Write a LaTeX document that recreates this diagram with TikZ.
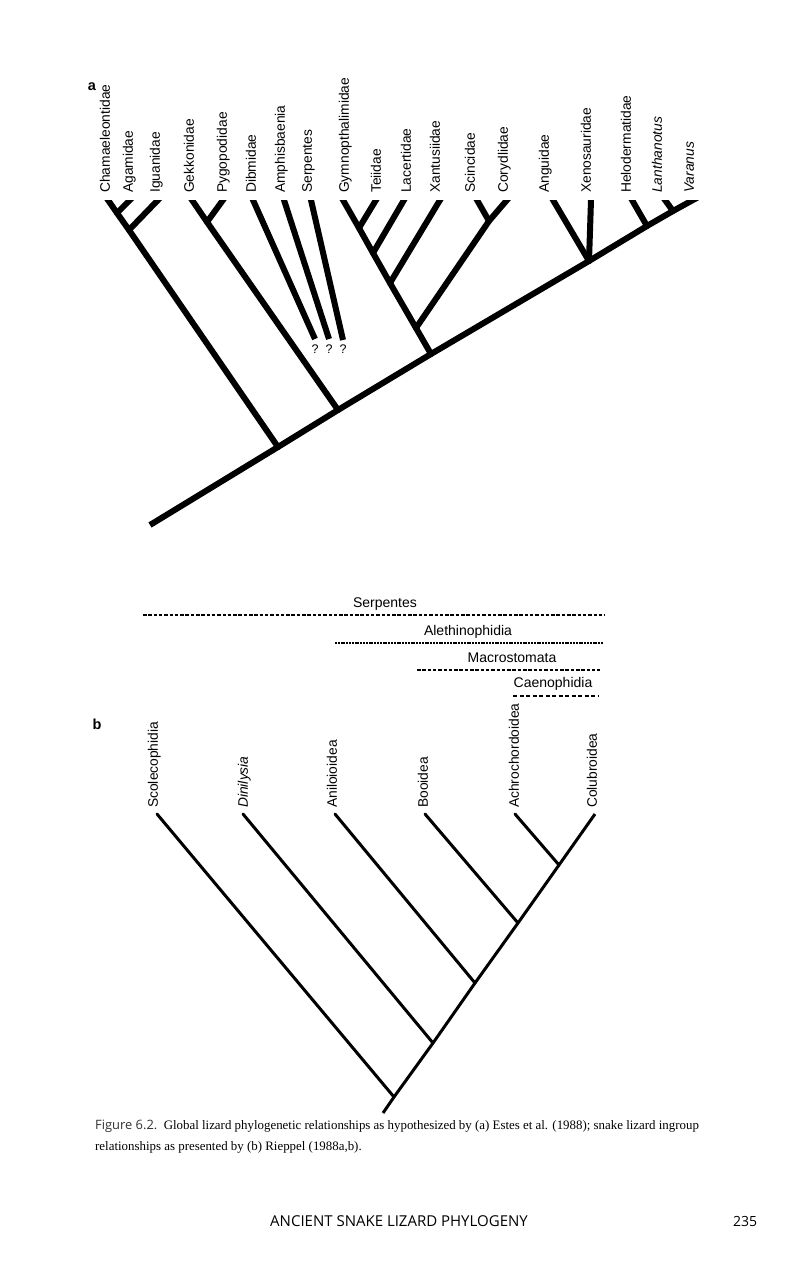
\documentclass[tikz,border=0pt]{standalone}
\usepackage{fontspec}
\usetikzlibrary{positioning}
\setmainfont{Liberation Sans}
\newfontfamily\capfont{Liberation Serif}
\newfontfamily\pagefont{Open Sans}
\tikzset{
  taxon/.style={rotate=90, anchor=west, inner sep=0pt, text height=0.75em,
    text depth=0.2em, font=\fontsize{13.8}{15}\selectfont},
  cladename/.style={inner sep=0pt, font=\fontsize{14}{15}\selectfont},
  query/.style={inner sep=0pt, font=\fontsize{12.5}{14}\selectfont},
  heavy/.style={line width=6pt, line cap=round, line join=round},
  light/.style={line width=3pt, line cap=round, line join=round},
  tipcut/.style={shorten <=-7pt},
  cladebar/.style={line width=1.5pt, dash pattern=on 3.5pt off 1.8pt},
}
\begin{document}
\begin{tikzpicture}[x=1pt, y=-1pt]
  \useasboundingbox (0,0) rectangle (793,1280);
  \fill[white] (0,0) rectangle (793,1280);
  % Panel a: lizard tree
  \node[font=\fontsize{14.5}{16}\selectfont\bfseries] (pa) at (92,87) {a};
  \begin{scope}
    \clip (0,200) rectangle (793,1280);
    % backbone
    \coordinate (aroot) at (150,525);
    \coordinate (ncham) at (278,447);
    \coordinate (ngekk) at (338,410);
    \coordinate (ngymn) at (431,354);
    \coordinate (nangu) at (589,261);
    \coordinate (nhelo) at (647,226);
    \coordinate (nlant) at (673,211);
    \coordinate (tvara) at (693,200);
    \draw[heavy, line cap=butt, shorten >=-7pt] (aroot) -- (ncham) -- (ngekk) -- (ngymn)
      -- (nangu) -- (nhelo) -- (nlant) -- (tvara);
    % Chamaeleontidae, Agamidae, Iguanidae
    \coordinate (tcham) at (108,200);
    \coordinate (tagam) at (130,200);
    \coordinate (tigua) at (158,200);
    \coordinate (ncg) at (117,213);
    \coordinate (ncgi) at (129,230);
    \draw[heavy, tipcut] (tcham) -- (ncg) -- (ncgi) -- (ncham);
    \draw[heavy, tipcut] (tagam) -- (ncg);
    \draw[heavy, tipcut] (tigua) -- (ncgi);
    % Gekkonidae, Pygopodidae
    \coordinate (tgekk) at (192,200);
    \coordinate (tpygo) at (223,200);
    \coordinate (ngp) at (207,222);
    \draw[heavy, tipcut] (tgekk) -- (ngp) -- (ngekk);
    \draw[heavy, tipcut] (tpygo) -- (ngp);
    % Dibmidae, Amphisbaenia, Serpentes
    \coordinate (tdibm) at (253,200);
    \coordinate (tamph) at (284,200);
    \coordinate (tserp) at (311,200);
    \coordinate (edibm) at (315,339);
    \coordinate (eamph) at (329,339);
    \coordinate (eserp) at (343,340);
    \draw[heavy, line cap=butt, tipcut] (tdibm) -- (edibm);
    \draw[heavy, line cap=butt, tipcut] (tamph) -- (eamph);
    \draw[heavy, line cap=butt, tipcut] (tserp) -- (eserp);
    % Gymnopthalimidae to Corydlidae
    \coordinate (tgymn) at (343,200);
    \coordinate (tteii) at (376,200);
    \coordinate (tlace) at (404,200);
    \coordinate (txant) at (440,200);
    \coordinate (tscin) at (477,200);
    \coordinate (tcory) at (507,200);
    \coordinate (ngt) at (359,228);
    \coordinate (ngtl) at (373,253);
    \coordinate (ngtlx) at (390,283);
    \coordinate (nsc) at (489,221);
    \coordinate (nscb) at (416,328);
    \draw[heavy, tipcut] (tgymn) -- (ngt) -- (ngtl) -- (ngtlx) -- (nscb) -- (ngymn);
    \draw[heavy, tipcut] (tteii) -- (ngt);
    \draw[heavy, tipcut] (tlace) -- (ngtl);
    \draw[heavy, tipcut] (txant) -- (ngtlx);
    \draw[heavy, tipcut] (tcory) -- (nsc) -- (nscb);
    \draw[heavy, tipcut] (tscin) -- (nsc);
    % Anguidae, Xenosauridae
    \coordinate (tangu) at (553,200);
    \coordinate (txeno) at (591,200);
    \draw[heavy, tipcut] (tangu) -- (nangu);
    \draw[heavy, tipcut] (txeno) -- (nangu);
    % Helodermatidae, Lanthanotus
    \coordinate (thelo) at (632,200);
    \coordinate (tlant) at (665,200);
    \draw[heavy, tipcut] (thelo) -- (nhelo);
    \draw[heavy, tipcut] (tlant) -- (nlant);
  \end{scope}
  % question marks
  \node[query, below=6pt of edibm] (qdibm) {?};
  \node[query, below=6pt of eamph] (qamph) {?};
  \node[query, below=5pt of eserp] (qserp) {?};
  % taxon names, panel a
  \node[taxon] (lcham) at (107,193) {Chamaeleontidae};
  \node[taxon] (lagam) at (130,193) {Agamidae};
  \node[taxon] (ligua) at (157,193) {Iguanidae};
  \node[taxon] (lgekk) at (191,193) {Gekkonidae};
  \node[taxon] (lpygo) at (224,193) {Pygopodidae};
  \node[taxon] (ldibm) at (253,193) {Dibmidae};
  \node[taxon] (lamph) at (282,193) {Amphisbaenia};
  \node[taxon] (lserp) at (309,193) {Serpentes};
  \node[taxon] (lgymn) at (346,193) {Gymnopthalimidae};
  \node[taxon] (lteii) at (378,193) {Teiidae};
  \node[taxon] (llace) at (408,193) {Lacertidae};
  \node[taxon] (lxant) at (437,193) {Xantusiidae};
  \node[taxon] (lscin) at (472,193) {Scincidae};
  \node[taxon] (lcory) at (505,193) {Corydlidae};
  \node[taxon] (langu) at (546,193) {Anguidae};
  \node[taxon] (lxeno) at (588,193) {Xenosauridae};
  \node[taxon] (lhelo) at (628,193) {Helodermatidae};
  \node[taxon] (llant) at (659,193) {\itshape Lanthanotus};
  \node[taxon] (lvara) at (691,193) {\itshape Varanus};
  % Panel b: clade bars
  \coordinate (serpa) at (143,615);
  \coordinate (serpb) at (605,615);
  \coordinate (aletha) at (335,643);
  \coordinate (alethb) at (603,643);
  \coordinate (macra) at (417,670);
  \coordinate (macrb) at (600,670);
  \coordinate (caena) at (513,696);
  \coordinate (caenb) at (598,696);
  \draw[cladebar] (serpa) -- (serpb);
  \draw[cladebar, line width=1.2pt, dash pattern=on 2pt off 0.8pt] (aletha) -- (alethb);
  \draw[cladebar, line width=1.2pt] (macra) -- (macrb);
  \draw[cladebar, dash pattern=on 4pt off 2.5pt] (caena) -- (caenb);
  \node[cladename] (nserp) at (385,604) {Serpentes};
  \node[cladename] (naleth) at (468,632) {Alethinophidia};
  \node[cladename] (nmacr) at (512,658) {Macrostomata};
  \node[cladename] (ncaen) at (553,684) {Caenophidia};
  % Panel b: snake tree
  \node[font=\fontsize{14.5}{16}\selectfont\bfseries] (pb) at (97,724) {b};
  \coordinate (tscol) at (157,814);
  \coordinate (tdini) at (243,814);
  \coordinate (tanil) at (335,814);
  \coordinate (tbooi) at (425,814);
  \coordinate (tachr) at (515,814);
  \coordinate (tcolu) at (595,814);
  \coordinate (broot) at (383,1113);
  \coordinate (nscol) at (394,1097);
  \coordinate (ndini) at (433,1043);
  \coordinate (nanil) at (475,983);
  \coordinate (nbooi) at (518,923);
  \coordinate (nachr) at (559,865);
  \draw[light, line cap=butt] (broot) -- (nscol) -- (ndini) -- (nanil) -- (nbooi)
    -- (nachr) -- (tcolu);
  \draw[light] (tscol) -- (nscol);
  \draw[light] (tdini) -- (ndini);
  \draw[light] (tanil) -- (nanil);
  \draw[light] (tbooi) -- (nbooi);
  \draw[light] (tachr) -- (nachr);
  % taxon names, panel b
  \node[taxon] (lscol) at (155,808) {Scolecophidia};
  \node[taxon] (ldini) at (245,808) {\itshape Dinilysia};
  \node[taxon] (lanil) at (334,808) {Aniloioidea};
  \node[taxon] (lbooi) at (425,808) {Booidea};
  \node[taxon] (lachr) at (516,808) {Achrochordoidea};
  \node[taxon] (lcolu) at (594,808) {Colubroidea};
  % caption and page foot
  \node[anchor=north west, align=left, inner sep=0pt, font=\capfont\fontsize{12.9}{21}\selectfont]
    (caption) at (95,1120) {{\pagefont\color{black!80}Figure 6.2.}\ \ Global lizard phylogenetic
    relationships as hypothesized by (a) Estes et al. (1988); snake lizard ingroup\\
    relationships as presented by (b) Rieppel (1988a,b).};
  \node[font=\pagefont\fontsize{15}{17}\selectfont, inner sep=0pt] (running) at (399,1221)
    {ANCIENT SNAKE LIZARD PHYLOGENY};
  \node[font=\pagefont\fontsize{14}{16}\selectfont, inner sep=0pt] (folio) at (745,1221) {235};
\end{tikzpicture}
\end{document}
